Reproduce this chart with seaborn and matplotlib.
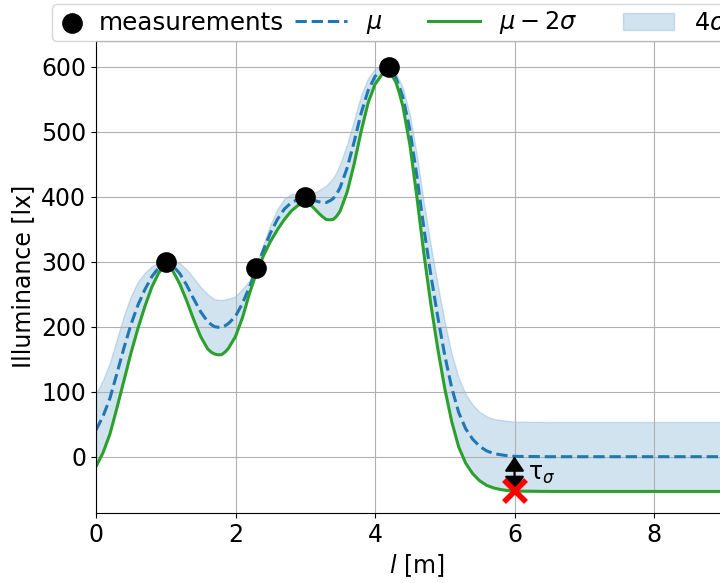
import matplotlib
matplotlib.use('Agg')
import matplotlib.pyplot as plt
import seaborn as sns
import numpy as np
import pandas as pd

# measurements (black dots)
meas_l = [1.0, 2.3, 3.0, 4.2]
meas_lux = [300, 290, 400, 600]

# posterior
l_grid = [0.0, 0.1, 0.2, 0.3, 0.4, 0.5, 0.6, 0.7, 0.8, 0.9, 0.95,
          1.0, 1.05, 1.1, 1.2, 1.3, 1.4, 1.5, 1.6, 1.65, 1.7, 1.75, 1.8, 1.85, 1.9,
          2.0, 2.1, 2.2, 2.3, 2.4, 2.5, 2.6, 2.7, 2.8, 2.9, 2.95,
          3.0, 3.05, 3.1, 3.2, 3.25, 3.3, 3.35, 3.4, 3.45, 3.5, 3.6, 3.7, 3.8, 3.9,
          4.0, 4.1, 4.15, 4.2, 4.25, 4.3, 4.35, 4.4, 4.5, 4.6, 4.7, 4.8, 4.9,
          5.0, 5.1, 5.2, 5.3, 5.4, 5.5, 5.6, 5.7, 5.8, 5.9,
          6.0, 6.5, 7.0, 8.0, 9.0, 9.5]
mu = [41, 62, 90, 128, 167, 203, 233, 257, 277, 291, 295,
      297, 296.5, 294, 282, 264, 243, 223, 208, 203.5, 200, 199.2, 199, 201.5, 205,
      216, 236, 261, 289, 318, 344, 365, 381, 391, 396, 396.8,
      397, 396.2, 395, 392, 391.3, 391, 393.5, 397, 404, 414, 444, 484, 528, 563,
      585, 595, 596.5, 597, 591.5, 583, 569, 553, 503, 432, 352, 280, 215,
      156, 106, 68, 43, 27, 16, 9, 5, 3, 1.5,
      0.5, 0, 0, 0, 0, 0]
# mu - 2 sigma (green line)
lower = [-15, 6, 35, 75, 117, 159, 197, 231, 261, 283, 289,
         293, 290.5, 286, 266, 240, 211, 185, 166, 161, 158, 156.8, 157, 161, 167,
         185, 214, 251, 283, 309, 331, 349, 365, 378, 387, 389.5,
         391, 389, 385, 374, 369, 365, 364.5, 365, 370, 378, 407, 450, 500, 544,
         573, 588, 591, 592, 585.5, 576, 559, 539, 480, 400, 313, 235, 166,
         105, 54, 15, -10, -26, -37, -44, -48, -50.5, -52,
         -52.9, -53.4, -53.4, -53.4, -53.4, -53.4]

tau_l = 6.0

df = pd.DataFrame({'l': l_grid, 'mu': mu, 'lower': lower})
df['upper'] = 2 * df['mu'] - df['lower']
meas = pd.DataFrame({'l': meas_l, 'lux': meas_lux})

W, H = 720, 583
fig = plt.figure(figsize=(W / 100, H / 100), dpi=100)
# axes runs past the right edge of the figure, like the cropped original
ax = fig.add_axes([96 / W, 70 / H, 641.7 / W, (513 - 40.7) / H])

band = ax.fill_between(df['l'], df['lower'], df['upper'], color='#1f77b4', alpha=0.2, lw=1)
sns.lineplot(data=df, x='l', y='mu', ax=ax, color='#1f77b4', linestyle='--', lw=2.2)
sns.lineplot(data=df, x='l', y='lower', ax=ax, color='#2ca02c', lw=2.2)
sns.scatterplot(data=meas, x='l', y='lux', ax=ax, color='black', s=190, edgecolor='black', zorder=4)

low_tau = df.loc[df['l'] == tau_l, 'lower'].item()
mu_tau = df.loc[df['l'] == tau_l, 'mu'].item()
ax.annotate('', xy=(tau_l, mu_tau), xytext=(tau_l, low_tau),
            arrowprops=dict(arrowstyle='<|-|>,head_length=0.3,head_width=0.2', color='black',
                            lw=1.5, mutation_scale=30, shrinkA=0, shrinkB=0), zorder=5)
ax.plot([tau_l], [low_tau], marker='x', color='red', ms=16, mew=4, zorder=6)
ax.text(tau_l + 0.2, (mu_tau + low_tau) / 2, r'τ$_{\sigma}$', fontsize=17, va='center')

ax.set_xlim(0, 9.2)
ax.set_ylim(-86.6, 640)
ax.set_xticks([0, 2, 4, 6, 8])
ax.set_yticks([0, 100, 200, 300, 400, 500, 600])
ax.grid(True)
ax.tick_params(labelsize=17)
ax.set_xlabel('$l$ [m]', fontsize=17)
ax.set_ylabel('Illuminance [lx]', fontsize=17)

lines = ax.get_lines()
h_mu, h_low = lines[0], lines[1]
h_meas = ax.collections[-1]

# legend: framed box with the measurements entry, the rest laid on top of it
leg1 = ax.legend([h_meas], ['measurements'], loc='center left', mode='expand',
                 bbox_to_anchor=(52 / W, 1 - 22.5 / H, 730 / W, 0), bbox_transform=fig.transFigure,
                 fontsize=17.7, handlelength=1.1, handletextpad=0.55, borderpad=0.25,
                 borderaxespad=0)
ax.add_artist(leg1)
ax.legend([h_mu, h_low, band], [r'$\mu$', r'$\mu-2\sigma$', r'4$\sigma$'],
          loc='center left', bbox_to_anchor=(295 / W, 1 - 23 / H), bbox_transform=fig.transFigure,
          ncol=3, frameon=False, fontsize=17.3, handlelength=2.15, borderpad=0,
          borderaxespad=0, columnspacing=1.9)

fig.savefig('out.png', dpi=100)
